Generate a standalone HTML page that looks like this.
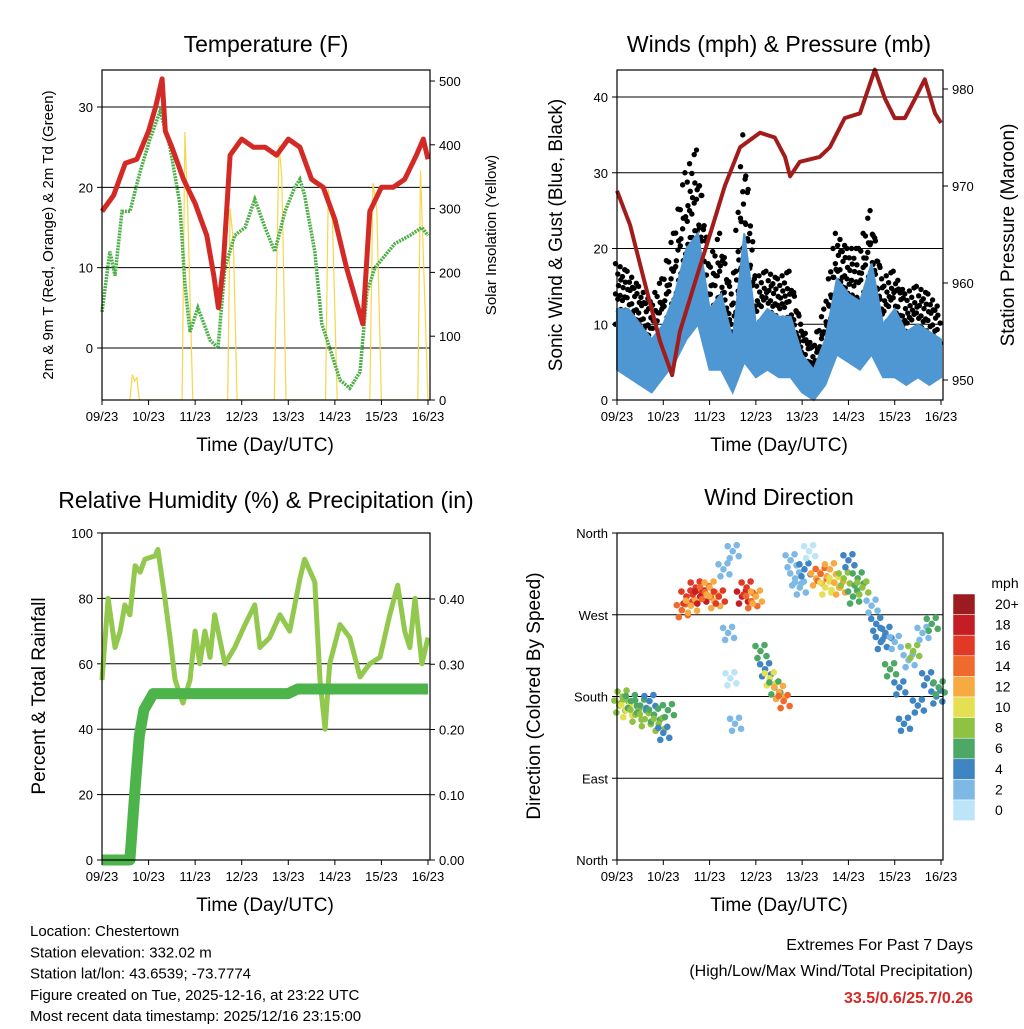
<!DOCTYPE html>
<html><head><meta charset="utf-8"><style>
body{margin:0;background:#fff;}
svg text{font-family:"Liberation Sans",sans-serif;}
</style></head><body>
<svg id="c" width="1024" height="1024" viewBox="0 0 1024 1024" xmlns="http://www.w3.org/2000/svg"></svg>
<script>
// ---------- DATA ----------
const dayLabels=["09/23","10/23","11/23","12/23","13/23","14/23","15/23","16/23"];
const tempTimes=[0,0.25,0.5,0.75,1.0,1.15,1.29,1.36,1.5,1.75,2.0,2.25,2.4,2.5,2.6,2.75,3.0,3.25,3.5,3.75,4.0,4.25,4.5,4.75,5.0,5.25,5.5,5.6,5.75,6.0,6.25,6.5,6.75,6.9,7.0];
const tempVals=[17,19,23,23.5,27,30,33.5,27,25,21,18,14,9,5,10,24,26,25,25,24,26,25,21,20,16,10,5,3,17,20,20,21,24,26,23.5];
const dewTimes=[0,0.17,0.28,0.43,0.6,0.82,1.03,1.25,1.46,1.67,1.78,1.89,2.06,2.32,2.49,2.64,2.85,3.07,3.28,3.5,3.71,3.93,4.14,4.25,4.35,4.57,4.72,4.89,5.11,5.32,5.54,5.69,5.86,6.29,6.61,6.87,7.0];
const dewVals=[4.5,12,9,17,17,22,26,29.5,25,18,8,2,5,1,0,10,14,15,18.5,15,12,17,20,21,19,12,3,0,-4,-5,-3,7,10,13,14,15,14];
const solarTimes=[0.6,0.65,0.7,0.75,0.8,1.5,1.72,1.78,1.84,1.95,2.5,2.7,2.75,2.82,2.9,3.5,3.7,3.8,3.86,3.95,4.5,4.8,4.86,4.95,5.05,5.5,5.75,5.82,5.9,6.0,6.5,6.78,6.84,6.92,7.0];
const solarVals=[0,40,30,35,0,0,0,420,300,0,0,0,300,250,0,0,0,400,350,0,0,0,330,280,0,0,0,340,300,0,0,0,360,180,0];
const windTimes=[0,0.25,0.5,0.75,1.0,1.25,1.5,1.75,2.0,2.25,2.5,2.75,3.0,3.25,3.5,3.75,4.0,4.25,4.5,4.75,5.0,5.25,5.5,5.75,6.0,6.25,6.5,6.75,7.0];
const windLow=[4,3,2,1,3,5,8,10,4,4,1,5,3,4,3,3,1,0,2,6,5,4,6,3,3,2,3,2,3];
const windHigh=[12,12,10,8,10,14,20,22,12,14,8,22,10,12,11,11,6,4,8,16,14,13,18,10,12,9,10,9,8];
const gustVals=[18,17,15,13,16,22,30,33,18,22,14,35,16,17,16,17,10,7,12,22,20,20,25,16,17,14,15,14,12];
const presTimes=[0,0.28,0.6,0.93,1.19,1.36,1.68,2.01,2.33,2.66,3.09,3.41,3.63,3.74,3.95,4.38,4.6,4.92,5.25,5.57,5.79,6.0,6.22,6.44,6.65,6.87,7.0];
const presVals=[969.5,966,960,954,950.5,955,960,965,970,974,975.5,975,973,971,972.5,973,974,977,977.5,982,979,977,977,979,981,977.5,976.5];
const rhTimes=[0,0.13,0.28,0.39,0.49,0.6,0.71,0.82,0.92,1.14,1.2,1.35,1.46,1.57,1.74,1.89,2.0,2.1,2.21,2.32,2.42,2.64,2.85,3.07,3.28,3.39,3.6,3.82,4.03,4.25,4.35,4.57,4.68,4.79,4.89,5.11,5.32,5.54,5.75,5.97,6.18,6.35,6.5,6.61,6.72,6.87,7.0];
const rhVals=[55,80,65,70,78,75,90,88,92,93,95,80,68,55,48,55,70,60,70,62,75,60,65,72,78,65,68,75,70,86,92,85,55,40,60,72,68,56,60,62,75,84,70,65,80,60,68];
const rainTimes=[0,0.6,0.7,0.8,0.9,1.1,4.0,4.2,7.0];
const rainVals=[0,0,0.1,0.19,0.23,0.255,0.255,0.262,0.262];
const dirTimes=[0.05,0.12,0.2,0.3,0.4,0.5,0.6,0.7,0.8,0.9,1.0,1.1,1.4,1.5,1.6,1.7,1.8,1.9,2.0,2.1,2.2,2.3,2.4,2.45,2.5,2.55,2.7,2.8,2.9,3.0,3.1,3.2,3.3,3.4,3.5,3.6,3.75,3.85,3.95,4.05,4.15,4.3,4.4,4.5,4.6,4.7,4.8,4.9,5.0,5.1,5.2,5.3,5.5,5.6,5.7,5.8,5.9,6.0,6.1,6.2,6.3,6.4,6.5,6.6,6.7,6.8,6.9,6.95];
const dirVals=[170,180,165,175,160,170,155,175,160,150,140,165,275,290,280,300,290,295,300,285,290,320,250,200,340,150,290,300,285,290,230,210,200,190,185,175,330,310,300,320,340,310,315,300,320,305,300,310,330,290,310,300,280,260,240,250,210,240,190,150,220,230,170,250,200,260,180,190];
const dirSpeed=[9,8,10,7,9,6,8,5,7,9,4,6,15,17,13,16,18,14,13,12,17,3,2,1,3,2,18,16,14,12,6,5,10,7,12,14,2,3,2,4,1,12,14,11,13,10,12,8,4,7,6,9,3,4,5,4,6,3,5,4,3,8,4,3,5,7,4,6];
const cbLabels=["20+","18","16","14","12","10","8","6","4","2","0"];
const cbColors=["#9b1b1e","#c41e24","#e03a27","#ef6a2c","#f7a942","#e4e052","#8fc142","#4ea865","#3f85c4","#7db9e4","#bde4f7"];

// ---------- HELPERS ----------
const svg=document.getElementById('c');
const NS="http://www.w3.org/2000/svg";
function el(tag,attrs,parent){const e=document.createElementNS(NS,tag);for(const k in attrs)e.setAttribute(k,attrs[k]);(parent||svg).appendChild(e);return e;}
function txt(x,y,s,size,anchor,rot,color,weight){const e=el('text',{x:x,y:y,'font-size':size,'text-anchor':anchor||'middle'});if(rot)e.setAttribute('transform','rotate('+rot+' '+x+' '+y+')');e.setAttribute('fill',color||'#000');if(weight)e.setAttribute('font-weight',weight);e.textContent=s;return e;}
function lin(d0,d1,r0,r1){return v=>r0+(v-d0)*(r1-r0)/(d1-d0);}
function path(xs,ys,fx,fy){return xs.map((t,i)=>(i?'L':'M')+fx(t).toFixed(1)+','+fy(ys[i]).toFixed(1)).join('');}
function frame(x0,x1,y0,y1,name){const r=el('rect',{x:x0,y:y0,width:x1-x0,height:y1-y0,fill:'none',stroke:'#000','stroke-width':1.2});}
function xAxis(fx,y1,name){const g=el('g',{});
 dayLabels.forEach((s,i)=>{const x=fx(i);el('line',{x1:x,x2:x,y1:y1,y2:y1+5,stroke:'#000'},g);const t=txt(x,y1+21,s,13);g.appendChild(t);});
 const tt=txt((fx(0)+fx(7))/2,y1+51,'Time (Day/UTC)',19);}
function yTicks(fy,ticks,x,side,labels,grid,x0,x1,name){const g=el('g',{});
 ticks.forEach((v,i)=>{const y=fy(v);if(grid)el('line',{x1:x0,x2:x1,y1:y,y2:y,stroke:'#000','stroke-width':1},g);
 el('line',{x1:x,x2:x+(side<0?-5:5),y1:y,y2:y,stroke:'#000'},g);const t=txt(x+(side<0?-9:9),y+5,labels[i],13,side<0?'end':'start');g.appendChild(t);});}

// ---------- PANEL 1: TEMPERATURE ----------
(function(){
 const X0=102,X1=430,Y0=70,Y1=400;
 const fx=lin(0,7,102,428), fy=lin(0,30,348,107), fs=lin(0,500,400,81);
 const tl=txt(266,52,'Temperature (F)',23);
 yTicks(fy,[0,10,20,30],X0,-1,['0','10','20','30'],true,X0,X1,'temperature-left-axis');
 yTicks(fs,[0,100,200,300,400,500],X1,1,['0','100','200','300','400','500'],false,0,0,'solar-right-axis');
 const cp=el('clipPath',{id:'cp1'});el('rect',{x:X0,y:Y0,width:X1-X0,height:Y1-Y0},cp);
 const s=el('path',{d:path(solarTimes,solarVals,fx,fs),fill:'none',stroke:'#f7d64a','stroke-width':1.2,'clip-path':'url(#cp1)'});
 const d=el('path',{d:path(dewTimes,dewVals,fx,fy),fill:'none',stroke:'#4caf47','stroke-width':3.5,'stroke-dasharray':'2 1'});
 const r=el('path',{d:path(tempTimes,tempVals,fx,fy),fill:'none',stroke:'#d42a25','stroke-width':5,'stroke-linejoin':'round'});
 frame(X0,X1,Y0,Y1,'temperature');xAxis(fx,Y1,'temperature');
 const a=txt(53,235,'2m & 9m T (Red, Orange) & 2m Td (Green)',15,'middle',-90);
 const b=txt(496,235,'Solar Insolation (Yellow)',15,'middle',-90);
})();

// ---------- PANEL 2: WINDS ----------
(function(){
 const X0=617,X1=943,Y0=70,Y1=400;
 const fx=lin(0,7,617,941), fy=lin(0,40,400,97), fp=lin(950,980,380,89);
 const tl=txt(779,52,'Winds (mph) & Pressure (mb)',23);
 yTicks(fy,[0,10,20,30,40],X0,-1,['0','10','20','30','40'],true,X0,X1,'wind-left-axis');
 yTicks(fp,[950,960,970,980],X1,1,['950','960','970','980'],false,0,0,'pressure-right-axis');
 // gust dots: interpolate between samples, spread from sustained-high to gust
 const sub=5, lv=[0,0.25,0.5,0.75,1];
 for(let i=0;i<windTimes.length-1;i++){for(let j=0;j<sub;j++){const f=j/sub;
  const t=windTimes[i]+(windTimes[i+1]-windTimes[i])*f;
  const hi=windHigh[i]+(windHigh[i+1]-windHigh[i])*f, gu=gustVals[i]+(gustVals[i+1]-gustVals[i])*f;
  lv.forEach((l,k)=>{const v=hi-2+(gu-hi+2)*l*((j+k)%2?0.85:1);
   const c=el('circle',{cx:fx(t)+((k%2)?1.5:-1.5),cy:fy(v),r:2.7,fill:'#000'});
   
   });}}
 const top2=windTimes.map((t,i)=>fx(t).toFixed(1)+','+fy(windHigh[i]).toFixed(1));
 const bot=windTimes.map((t,i)=>fx(t).toFixed(1)+','+fy(windLow[i]).toFixed(1)).reverse();
 const w=el('polygon',{points:top2.concat(bot).join(' '),fill:'#4e97d2',stroke:'#4e97d2','stroke-width':2});
 const p=el('path',{d:path(presTimes,presVals,fx,fp),fill:'none',stroke:'#a31c1c','stroke-width':4,'stroke-linejoin':'round'});
 frame(X0,X1,Y0,Y1,'winds');xAxis(fx,Y1,'winds');
 const a=txt(562,235,'Sonic Wind & Gust (Blue, Black)',19,'middle',-90);
 const b=txt(1014,235,'Station Pressure (Maroon)',19,'middle',-90);
})();

// ---------- PANEL 3: RH & PRECIP ----------
(function(){
 const X0=102,X1=430,Y0=533,Y1=860;
 const fx=lin(0,7,102,428), fy=lin(0,100,860,533), fr=lin(0,0.4,860,599);
 const tl=txt(266,508,'Relative Humidity (%) & Precipitation (in)',23);
 yTicks(fy,[0,20,40,60,80,100],X0,-1,['0','20','40','60','80','100'],true,X0,X1,'humidity-left-axis');
 yTicks(fr,[0,0.1,0.2,0.3,0.4],X1,1,['0.00','0.10','0.20','0.30','0.40'],false,0,0,'precip-right-axis');
 const h=el('path',{d:path(rhTimes,rhVals,fx,fy),fill:'none',stroke:'#92c84e','stroke-width':5,'stroke-linejoin':'round'});
 const r=el('path',{d:path(rainTimes,rainVals,fx,fr),fill:'none',stroke:'#4cb44a','stroke-width':11,'stroke-linejoin':'round'});
 frame(X0,X1,Y0,Y1,'humidity');xAxis(fx,Y1,'humidity');
 const a=txt(45,696,'Percent & Total Rainfall',19,'middle',-90);
})();

// ---------- PANEL 4: WIND DIRECTION ----------
(function(){
 const X0=617,X1=943,Y0=533,Y1=860;
 const fx=lin(0,7,617,941), fy=lin(0,360,860,533);
 const tl=txt(779,505,'Wind Direction',23);
 yTicks(fy,[0,90,180,270,360],X0,-1,['North','East','South','West','North'],true,X0,X1,'direction-left-axis');
 function col(s){const i=Math.min(10,Math.floor(s/2));return cbColors[10-i];}
 const offs=[[0,0],[4,-6],[-3,7],[6,5],[-5,-5]];
 dirTimes.forEach((t,i)=>{offs.forEach(o=>{const c=el('circle',{cx:fx(t)+o[0],cy:fy(dirVals[i])+o[1],r:3.3,fill:col(dirSpeed[i])});});});
 frame(X0,X1,Y0,Y1,'wind-direction');xAxis(fx,Y1,'wind-direction');
 const a=txt(540,696,'Direction (Colored By Speed)',19,'middle',-90);
 const g=el('g',{});
 const lt=txt(1005,588,'mph',14);g.appendChild(lt);
 cbColors.forEach((c,i)=>{const y=594+i*20.6;const r=el('rect',{x:953,y:y,width:22,height:20.6,fill:c,stroke:'#fff','stroke-width':0.5},g);const t=txt(995,y+15,cbLabels[i],14,'start');g.appendChild(t);});
})();

// ---------- FOOTER ----------
const info=["Location: Chestertown","Station elevation: 332.02 m","Station lat/lon: 43.6539; -73.7774","Figure created on Tue, 2025-12-16, at 23:22 UTC","Most recent data timestamp: 2025/12/16 23:15:00"];
info.forEach((s,i)=>{const t=txt(30,936+i*21.3,s,15,'start');});
let t=txt(973,950,'Extremes For Past 7 Days',16,'end');
t=txt(973,976,'(High/Low/Max Wind/Total Precipitation)',16,'end');
t=txt(973,1003,'33.5/0.6/25.7/0.26',16,'end',0,'#d42a25','bold');
</script>
</body></html>
